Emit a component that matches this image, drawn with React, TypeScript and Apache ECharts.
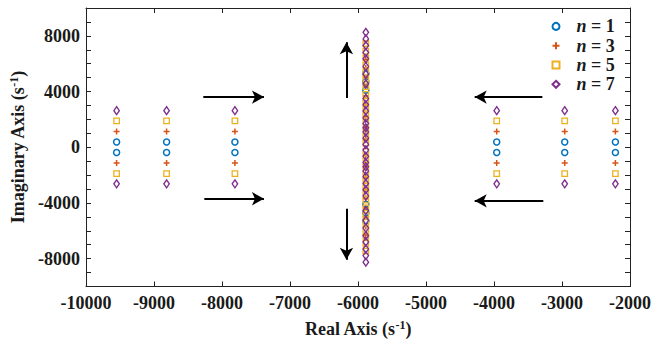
import React, { useEffect, useRef } from "react";
import * as echarts from "echarts";

// ---- data ----
const seriesNames = ["n = 1", "n = 3", "n = 5", "n = 7"];
const colors = ["#0072BD", "#D95319", "#EDB120", "#7E2F8E"];

// outer pole columns (real part)
const realLeft = [-9550, -8815, -7810];
const realRight = [-3960, -2960, -2215];
const realCenter = -5885;

// imaginary parts of the outer pole pairs
const imagN1 = [380, -380];
const imagN3 = [1140, -1140];
const imagN5 = [1890, -1890];
const imagN7 = [2630, -2630];

// imaginary parts of the poles on the central column
const centerN1 = [5300, 4700, 4100, -4100, -4700, -5300];
const centerN3 = [6300, 5700, 5000, 4350, 3700, 3000, 2200, 1400, 600, -600, -1400, -2200, -3000, -3700, -4350, -5000, -5700, -6300];
const centerN5 = [7450, 6900, 6400, 5900, 5400, 4900, 4350, 3800, 3300, 2800, 2300, 1800, 1300, 800, 300,
  -300, -800, -1300, -1800, -2300, -2800, -3300, -3800, -4350, -4900, -5400, -5900, -6400, -6900, -7450];
const centerN7 = [8250, 7780, 7300, 6800, 6350, 5800, 5250, 4550, 3500, 3050, 2600, 2100, 1700, 1400, 1100, 650, 200,
  -200, -650, -1100, -1400, -1700, -2100, -2600, -3050, -3500, -4550, -5250, -5800, -6350, -6800, -7300, -7780, -8250];

// arrows: [x1, y1, x2, y2]
const arrows = [
  [-8275, 3600, -7383, 3600],
  [-8260, -3700, -7383, -3700],
  [-3289, 3600, -4284, 3600],
  [-3275, -3850, -4284, -3850],
  [-6170, 3534, -6170, 7548],
  [-6170, -4423, -6170, -8079],
];

const xTickLabels = [-10000, -9000, -8000, -7000, -6000, -5000, -4000, -3000, -2000];
const yTickLabels = [-8000, -4000, 0, 4000, 8000];

const FONT = "'Liberation Serif', 'Times New Roman', serif";
const TXT = "#1a1a1a";

function buildPoints(outer: number[], center: number[]) {
  const pts: number[][] = [];
  for (const x of [...realLeft, ...realRight]) {
    for (const y of outer) pts.push([x, y]);
  }
  for (const y of center) pts.push([realCenter, y]);
  return pts;
}

export default function App() {
  const ref = useRef<HTMLDivElement>(null);
  useEffect(() => {
    if (!ref.current) return;
    const chart = echarts.init(ref.current, undefined, { renderer: "svg" });
    const outers = [imagN1, imagN3, imagN5, imagN7];
    const centers = [centerN1, centerN3, centerN5, centerN7];
    const symbols: any[] = ["circle", "path://M4,0L4,8M0,4L8,4", "rect", "diamond"];
    const sizes: any[] = [6, 6, 5.5, [5.5, 8]];
    const borderW = [1.5, 1.5, 1.3, 1.4];

    const scatter = seriesNames.map((name, i) => ({
      name,
      type: "scatter",
      data: buildPoints(outers[i], centers[i]),
      symbol: symbols[i],
      symbolSize: sizes[i],
      itemStyle: { color: "transparent", borderColor: colors[i], borderWidth: borderW[i], opacity: 1 },
      emphasis: { disabled: true },
      z: 2 + i,
    }));

    const axisLabelStyle = { fontFamily: FONT, fontWeight: "bold", fontSize: 18, color: TXT };
    const axisLineStyle = { show: true, onZero: false, lineStyle: { color: "#222", width: 1 } };
    const tickStyle = { show: true, inside: true, length: 5, lineStyle: { color: "#222", width: 1 } };
    const nameRich = {
      a: { fontFamily: FONT, fontWeight: "bold", fontSize: 18, color: TXT, lineHeight: 20 },
      s: { fontFamily: FONT, fontWeight: "bold", fontSize: 12, color: TXT, verticalAlign: "top", lineHeight: 20 },
    };

    chart.setOption({
      animation: false,
      grid: { left: 86, right: 21, top: 8, bottom: 56.5 },
      legend: {
        data: seriesNames,
        orient: "vertical",
        left: 546.5,
        top: 12.4,
        itemWidth: 7,
        itemHeight: 7,
        itemGap: 1.3,
        formatter: (name: string) => `{i|n}{t| = ${name.split("= ")[1]}}`,
        textStyle: {
          lineHeight: 18,
          rich: {
            i: { fontFamily: FONT, fontWeight: "bold", fontStyle: "italic", fontSize: 18, color: TXT, padding: [0, 0, 0, 12] },
            t: { fontFamily: FONT, fontWeight: "bold", fontSize: 18, color: TXT },
          },
        },
      },
      xAxis: [
        {
          type: "value",
          min: -10000,
          max: -2000,
          interval: 1000,
          position: "bottom",
          name: "{a|Real Axis (s}{s|-1}{a|)}",
          nameLocation: "middle",
          nameGap: 32,
          nameTextStyle: { rich: nameRich },
          axisLine: axisLineStyle,
          axisTick: tickStyle,
          splitLine: { show: false },
          axisLabel: {
            ...axisLabelStyle,
            margin: 7,
            formatter: (v: number) => (xTickLabels.includes(v) ? String(v) : ""),
          },
        },
        {
          type: "value",
          min: -10000,
          max: -2000,
          interval: 1000,
          position: "top",
          axisLine: axisLineStyle,
          axisTick: tickStyle,
          splitLine: { show: false },
          axisLabel: { show: false },
        },
      ],
      yAxis: [
        {
          type: "value",
          min: -10000,
          max: 10000,
          interval: 1000,
          position: "left",
          name: "{a|Imaginary Axis (s}{s|-1}{a|)}",
          nameLocation: "middle",
          nameGap: 53,
          nameRotate: 90,
          nameTextStyle: { rich: nameRich },
          axisLine: axisLineStyle,
          axisTick: tickStyle,
          splitLine: { show: false },
          axisLabel: {
            ...axisLabelStyle,
            margin: 6,
            formatter: (v: number) => (yTickLabels.includes(v) ? String(v) : ""),
          },
        },
        {
          type: "value",
          min: -10000,
          max: 10000,
          interval: 1000,
          position: "right",
          axisLine: axisLineStyle,
          axisTick: tickStyle,
          splitLine: { show: false },
          axisLabel: { show: false },
        },
      ],
      series: [
        ...scatter,
        {
          name: "arrows",
          type: "line",
          data: [],
          z: 10,
          markLine: {
            silent: true,
            animation: false,
            symbol: ["none", "arrow"],
            symbolSize: [10, 12],
            lineStyle: { color: "#000", width: 2, type: "solid" },
            label: { show: false },
            emphasis: { disabled: true },
            data: arrows.map((a) => [{ coord: [a[0], a[1]] }, { coord: [a[2], a[3]] }]),
          },
        },
      ],
    });
    return () => chart.dispose();
  }, []);
  return (
    <div
      ref={ref}
      style={{ position: "fixed", left: 0, top: 0, width: 654, height: 343, background: "#fff" }}
    />
  );
}
